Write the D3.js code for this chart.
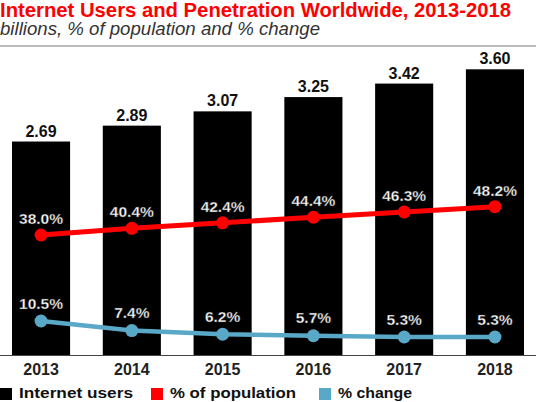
<!DOCTYPE html>
<html><head><meta charset="utf-8">
<script src="https://cdn.jsdelivr.net/npm/d3@7"></script>
<style>body{margin:0;background:#fff}svg{display:block}text{font-family:"Liberation Sans",Arial,sans-serif}</style>
</head><body>
<script>
const years = ["2013","2014","2015","2016","2017","2018"];
const users = [2.69, 2.89, 3.07, 3.25, 3.42, 3.60];
const population = [38.0, 40.4, 42.4, 44.4, 46.3, 48.2];
const change = [10.5, 7.4, 6.2, 5.7, 5.3, 5.3];
const legendItems = ["Internet users", "% of population", "% change"];

const W = 536, H = 402;
const red = "#ff0000", blue = "#5aa8c8";
const svg = d3.select("body").append("svg").attr("width", W).attr("height", H);

svg.append("text").attr("x", 0).attr("y", 16.5).attr("fill", red)
  .attr("font-size", 20).attr("font-weight", "bold")
  .attr("textLength", 511).attr("lengthAdjust", "spacingAndGlyphs")
  .text("Internet Users and Penetration Worldwide, 2013-2018");
svg.append("text").attr("x", 0).attr("y", 35).attr("fill", "#333")
  .attr("font-size", 17.5).attr("font-style", "italic")
  .attr("textLength", 320).attr("lengthAdjust", "spacingAndGlyphs")
  .text("billions, % of population and % change");
svg.append("line").attr("x1", 0).attr("x2", W).attr("y1", 46).attr("y2", 46)
  .attr("stroke", "#777").attr("stroke-width", 1);

const x = d3.scaleBand().domain(years).range([12, 524]).paddingInner(0.36).paddingOuter(0);
const y = d3.scaleLinear().domain([0, 3.6]).range([355, 69.3]);
const yp = d3.scaleLinear().domain([38, 48.2]).range([235, 206.7]);
const yc = d3.scaleLinear().domain([5.3, 10.5]).range([337, 321]);
const cx = d => x(d) + x.bandwidth() / 2;

svg.selectAll("rect.bar").data(years).enter().append("rect")
  .attr("x", d => x(d)).attr("width", x.bandwidth())
  .attr("y", (d, i) => y(users[i])).attr("height", (d, i) => y(0) - y(users[i]))
  .attr("fill", "#000");

svg.selectAll("text.val").data(years).enter().append("text")
  .attr("x", cx).attr("y", (d, i) => y(users[i]) - 5)
  .attr("text-anchor", "middle").attr("font-size", 16).attr("font-weight", "bold")
  .attr("fill", "#111").text((d, i) => users[i].toFixed(2));

// x axis
const xAxis = d3.axisBottom(x).tickSize(0).tickPadding(9);
const ax = svg.append("g").attr("transform", "translate(0,355)").call(xAxis);
ax.select(".domain").remove();
ax.selectAll("text").attr("font-size", 16).attr("font-weight", "bold").attr("fill", "#222")
  .style("font-family", '"Liberation Sans",Arial,sans-serif');
svg.append("line").attr("x1", 0).attr("x2", W).attr("y1", 355.5).attr("y2", 355.5)
  .attr("stroke", "#444").attr("stroke-width", 1);

function drawLine(vals, sc, color, lw, r, off) {
  const line = d3.line().x((d, i) => cx(years[i])).y(d => sc(d));
  svg.append("path").datum(vals).attr("d", line).attr("fill", "none")
    .attr("stroke", color).attr("stroke-width", lw);
  svg.selectAll(null).data(vals).enter().append("circle")
    .attr("cx", (d, i) => cx(years[i])).attr("cy", d => sc(d)).attr("r", r).attr("fill", color);
  svg.selectAll(null).data(vals).enter().append("text")
    .attr("x", (d, i) => cx(years[i])).attr("y", d => sc(d) - off)
    .attr("text-anchor", "middle").attr("font-size", 15.5).attr("font-weight", "bold")
    .attr("fill", "#fff").attr("stroke", "#333").attr("stroke-width", 0.4)
    .text(d => d.toFixed(1) + "%");
}
drawLine(population, yp, red, 5, 6.5, 11);
drawLine(change, yc, blue, 4.5, 6.5, 12.5);

// legend
const lg = svg.append("g");
const lx = [0, 151, 319];
const lw = [114, 126, 74];
const lc = ["#000", red, blue];
legendItems.forEach((t, i) => {
  lg.append("rect").attr("x", lx[i]).attr("y", 388).attr("width", 12).attr("height", 12).attr("fill", lc[i]);
  lg.append("text").attr("x", lx[i] + 19).attr("y", 398).attr("font-size", 15)
    .attr("font-weight", "bold").attr("fill", "#111")
    .attr("textLength", lw[i]).attr("lengthAdjust", "spacingAndGlyphs").text(t);
});
</script>
</body></html>
